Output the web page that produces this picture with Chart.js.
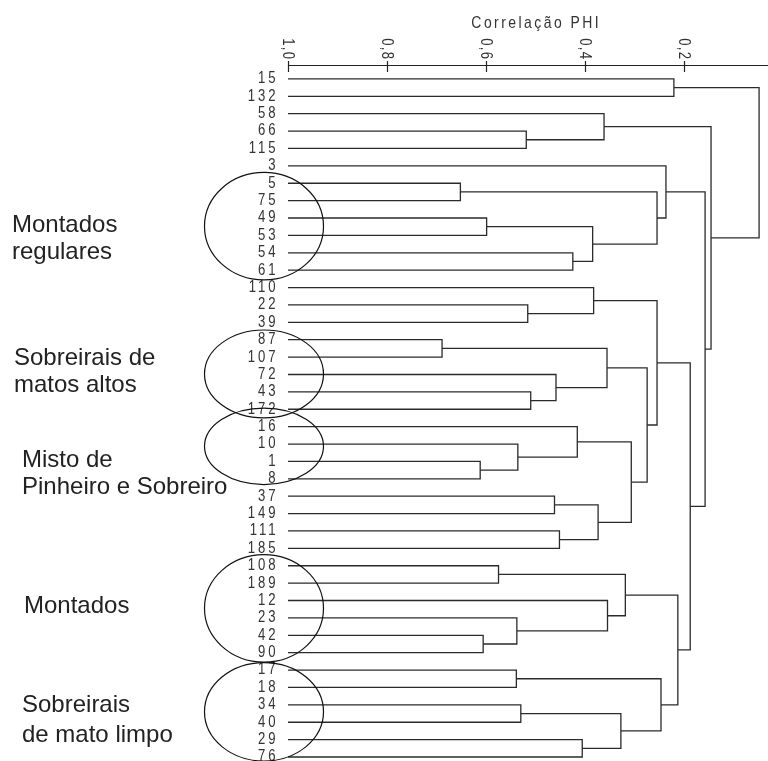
<!DOCTYPE html>
<html>
<head>
<meta charset="utf-8">
<script src="https://cdn.jsdelivr.net/npm/chart.js@4.4.0/dist/chart.umd.min.js"></script>
<style>
  html, body { margin: 0; padding: 0; background: #fff; }
  #wrap { width: 768px; height: 761px; }
</style>
</head>
<body>
<div id="wrap"><canvas id="dendro" width="768" height="761"></canvas></div>
<script>
// leaves, top to bottom
const leafLabels = ['15', '132', '58', '66', '115', '3', '5', '75', '49', '53', '54', '61',
  '110', '22', '39', '87', '107', '72', '43', '172', '16', '10', '1', '8', '37', '149',
  '111', '185', '108', '189', '12', '23', '42', '90', '17', '18', '34', '40', '29', '76'];

// merges: node 40 + k joins mergeLeft[k] and mergeRight[k] at mergeHeight[k]
const mergeLeft = [0, 3, 2, 6, 8, 10, 44, 43, 5, 13, 12, 15, 18, 17, 51, 22, 21, 20, 24, 26,
  58, 57, 54, 50, 28, 32, 31, 30, 64, 34, 36, 38, 70, 69, 68, 63, 48, 42, 40];
const mergeRight = [1, 4, 41, 7, 9, 11, 45, 46, 47, 14, 49, 16, 19, 52, 53, 23, 55, 56, 25, 27,
  59, 60, 61, 62, 29, 33, 65, 66, 67, 35, 37, 39, 71, 72, 73, 74, 75, 76, 77];
const mergeHeight = [0.221, 0.519, 0.362, 0.652, 0.599, 0.425, 0.385, 0.255, 0.237, 0.516,
  0.383, 0.689, 0.510, 0.459, 0.356, 0.612, 0.536, 0.416, 0.462, 0.452,
  0.374, 0.307, 0.275, 0.255, 0.575, 0.606, 0.538, 0.355, 0.319, 0.539,
  0.530, 0.406, 0.328, 0.247, 0.213, 0.188, 0.158, 0.146, 0.049];

const tickValues = [1.0, 0.8, 0.6, 0.4, 0.2];
const tickLabels = ['1,0', '0,8', '0,6', '0,4', '0,2'];
const axisTitle = 'Correlação PHI';

const groupText = [
  ['Montados', 'regulares'],
  ['Sobreirais de', 'matos altos'],
  ['Misto de', 'Pinheiro e Sobreiro'],
  ['Montados'],
  ['Sobreirais', 'de mato limpo']
];

// where the circles and group names sit (layout only)
const ellipseSpec = [
  { cy: 8.47, ry: 3.09 },
  { cy: 16.97, ry: 2.53 },
  { cy: 21.13, ry: 2.2 },
  { cy: 30.45, ry: 3.09 },
  { cy: 36.4, ry: 2.83 }
];
const groupTextPos = [
  { x: 12, y: [232, 259] },
  { x: 14, y: [365, 392] },
  { x: 22, y: [467, 494] },
  { x: 24, y: [613] },
  { x: 22, y: [712, 742] }
];

// node coordinates: leaves at height 1, merges at their level
const nodeX = leafLabels.map(() => 1.0);
const nodeY = leafLabels.map((l, i) => i);
mergeHeight.forEach((h, k) => {
  nodeX.push(h);
  nodeY.push((nodeY[mergeLeft[k]] + nodeY[mergeRight[k]]) / 2);
});

const lineColor = '#2b2b2b';
const datasets = mergeHeight.map((h, k) => {
  const a = mergeLeft[k], b = mergeRight[k];
  return {
    data: [
      { x: nodeX[a], y: nodeY[a] },
      { x: h, y: nodeY[a] },
      { x: h, y: nodeY[b] },
      { x: nodeX[b], y: nodeY[b] }
    ],
    showLine: true,
    borderColor: lineColor,
    borderWidth: 1.3,
    pointRadius: 0,
    tension: 0,
    fill: false
  };
});

// narrow-looking text: squeeze horizontally
function narrowText(ctx, text, x, y, size, spacing, align) {
  const sx = 0.82;
  ctx.save();
  ctx.translate(x, y);
  ctx.scale(sx, 1);
  ctx.font = size + 'px "Liberation Sans", Arial, sans-serif';
  ctx.letterSpacing = spacing + 'px';
  let w = ctx.measureText(text).width - spacing;
  let x0 = align === 'right' ? -w : align === 'center' ? -w / 2 : 0;
  ctx.textAlign = 'left';
  ctx.fillText(text, x0, 0);
  ctx.restore();
}

const decor = {
  id: 'decor',
  afterDraw(chart) {
    const { ctx, chartArea: { left, right, top }, scales: { x, y } } = chart;
    ctx.save();
    ctx.strokeStyle = '#222';
    ctx.fillStyle = '#333';
    ctx.lineWidth = 1.2;

    // axis on top
    ctx.beginPath();
    ctx.moveTo(left, top + 0.5);
    ctx.lineTo(right, top + 0.5);
    ctx.stroke();
    tickValues.forEach((v, i) => {
      const px = Math.round(x.getPixelForValue(v)) + 0.5;
      ctx.beginPath();
      ctx.moveTo(px, top - 4);
      ctx.lineTo(px, top + 7);
      ctx.stroke();
      ctx.save();
      ctx.translate(px - 1, top - 6);
      ctx.rotate(Math.PI / 2);
      ctx.textBaseline = 'middle';
      narrowText(ctx, tickLabels[i], 0, 0, 16, 1.5, 'right');
      ctx.restore();
    });

    ctx.textBaseline = 'alphabetic';
    narrowText(ctx, axisTitle, 535, 28, 17, 3, 'center');

    // leaf names
    ctx.textBaseline = 'middle';
    leafLabels.forEach((lab, i) => {
      narrowText(ctx, lab, 275.5, y.getPixelForValue(i), 16, 3.5, 'right');
    });

    // group circles
    const rowH = Math.abs(y.getPixelForValue(1) - y.getPixelForValue(0));
    ctx.strokeStyle = '#111';
    ctx.lineWidth = 1.2;
    ellipseSpec.forEach(e => {
      ctx.beginPath();
      ctx.ellipse(264, y.getPixelForValue(e.cy), 59.5, e.ry * rowH, 0, 0, Math.PI * 2);
      ctx.stroke();
    });

    // group names
    ctx.font = '24px "Liberation Sans", Arial, sans-serif';
    ctx.fillStyle = '#222';
    ctx.textAlign = 'left';
    ctx.textBaseline = 'alphabetic';
    groupText.forEach((lines, g) => {
      lines.forEach((t, j) => ctx.fillText(t, groupTextPos[g].x, groupTextPos[g].y[j]));
    });
    ctx.restore();
  }
};

new Chart(document.getElementById('dendro'), {
  type: 'scatter',
  data: { datasets: datasets },
  options: {
    responsive: false,
    animation: false,
    events: [],
    layout: { padding: { top: 65, left: 288, right: 0, bottom: 0 } },
    scales: {
      x: { type: 'linear', reverse: true, min: 0.031, max: 1.0, display: false },
      y: { type: 'linear', reverse: true, min: -0.8, max: 39.23, display: false }
    },
    plugins: {
      legend: { display: false },
      tooltip: { enabled: false }
    }
  },
  plugins: [decor]
});
</script>
</body>
</html>
